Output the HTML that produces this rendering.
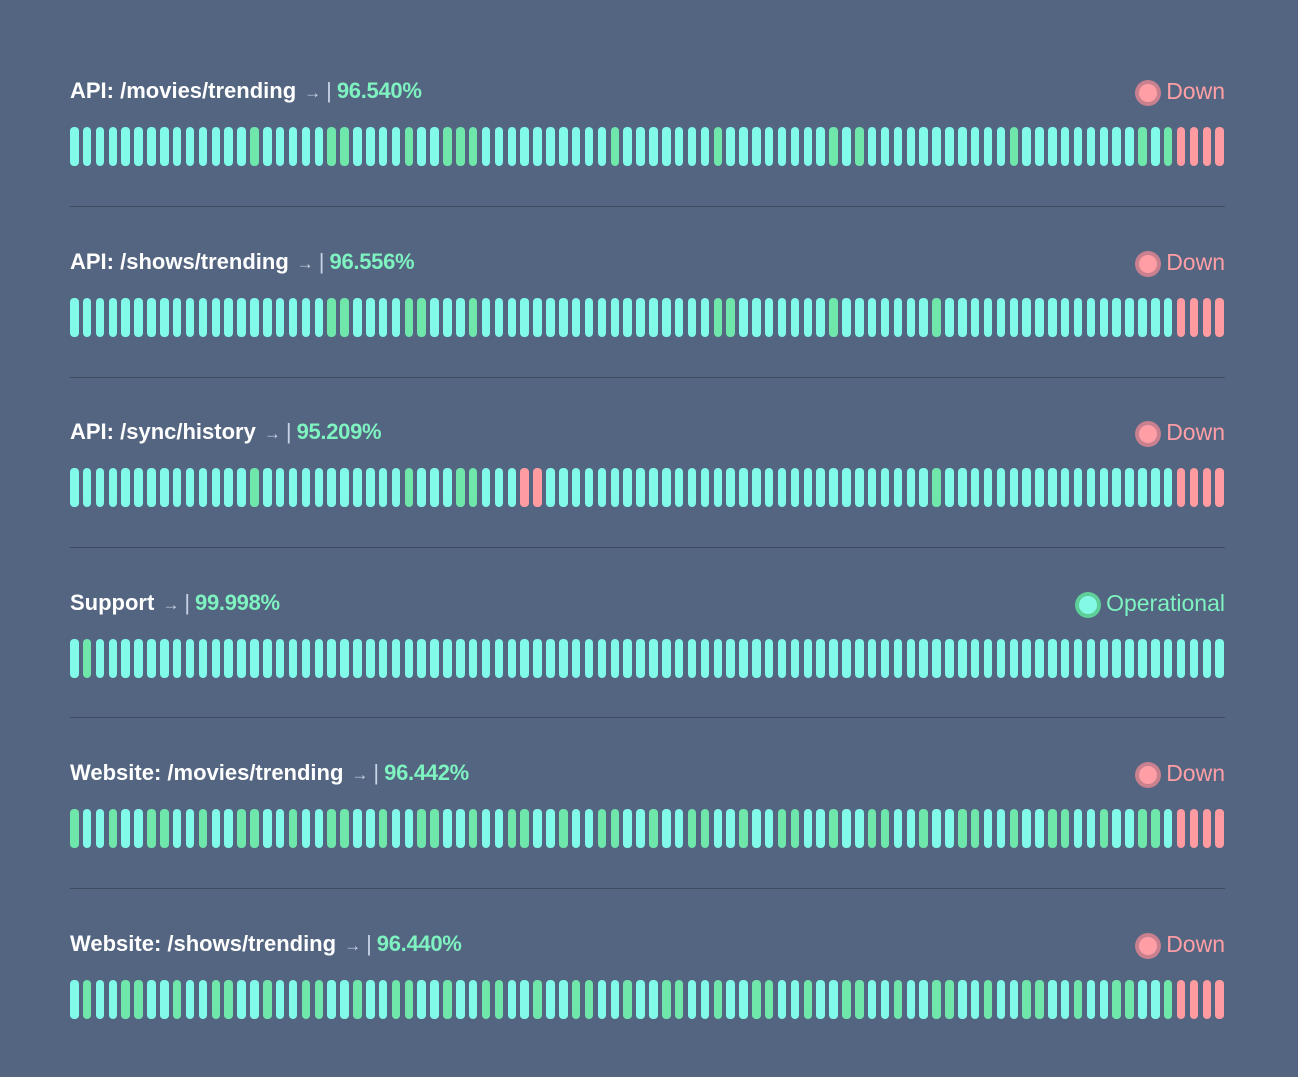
<!DOCTYPE html>
<html><head><meta charset="utf-8"><style>
html,body{margin:0;padding:0}
body{width:1298px;height:1077px;background:#536580;font-family:"Liberation Sans",sans-serif;position:relative;overflow:hidden}
.row{position:absolute;left:70px;width:1155px}
.t{position:absolute;left:0;top:0;height:30px;line-height:30px;font-size:22px;font-weight:bold;color:#fff;letter-spacing:0px;white-space:nowrap}
.t .a{color:#c9d3e6;font-weight:normal;font-size:17px;margin:0 5px 0 8px}
.t .s{color:#c9d3e6;font-weight:normal}
.t .p{color:#7ef2c0;font-weight:bold;margin-left:5px;letter-spacing:-0.3px}
.st{position:absolute;right:0;top:0;height:30px;line-height:30px;font-size:23px;white-space:nowrap}
.dot{display:inline-block;width:18px;height:18px;border-radius:50%;vertical-align:-3px;margin-right:9px}
.down{color:#ff9fa5}.down .dot{background:#ff9fa5;box-shadow:0 0 0 4px #c9808f}
.op{color:#7ef2c0}.op .dot{background:#84f9e6;box-shadow:0 0 0 4px #5fcf9a}
.bars{position:absolute;left:0;top:51px;height:39px;width:1155px}
.b{position:absolute;top:0;width:8.5px;height:39px;border-radius:4px;background:#82fae9}
.b.g{background:#6fe6aa}.b.r{background:#ff9ba1}
.sep{position:absolute;left:70px;width:1155px;height:1px;background:#3d4a5f}
</style></head><body>
<div id="root"></div>
<div class="sep" style="top:206px"></div>
<div class="sep" style="top:377px"></div>
<div class="sep" style="top:547px"></div>
<div class="sep" style="top:717px"></div>
<div class="sep" style="top:888px"></div>
<script>
var rows=[
["API: /movies/trending","96.540%",0,[14,20,21,26,29,30,31,42,50,59,61,73,83,85],[86,87,88,89]],
["API: /shows/trending","96.556%",0,[20,21,26,27,31,50,51,59,67],[86,87,88,89]],
["API: /sync/history","95.209%",0,[14,26,30,31,67],[35,36,86,87,88,89]],
["Support","99.998%",1,[1],[]],
["Website: /movies/trending","96.442%",0,null,[86,87,88,89]],
["Website: /shows/trending","96.440%",0,null,[86,87,88,89]]
];
var h="";
rows.forEach(function(r,i){
 var top=76+i*170.5;
 h+='<div class="row" style="top:'+top+'px"><div class="t">'+r[0]+'<span class="a">→</span><span class="s">|</span><span class="p">'+r[1]+'</span></div>';
 h+='<div class="st '+(r[2]?'op':'down')+'"><span class="dot"></span>'+(r[2]?'Operational':'Down')+'</div><div class="bars">';
 for(var k=0;k<90;k++){
  var c="";
  if(r[4].indexOf(k)>=0)c=" r";
  else if(r[3]){if(r[3].indexOf(k)>=0)c=" g";}
  else{var v=(k*37+i*11)%7; if(v<3)c=" g";}
  h+='<div class="b'+c+'" style="left:'+(k*12.87).toFixed(2)+'px"></div>';
 }
 h+='</div></div>';
});
document.getElementById("root").innerHTML=h;
</script>
</body></html>
